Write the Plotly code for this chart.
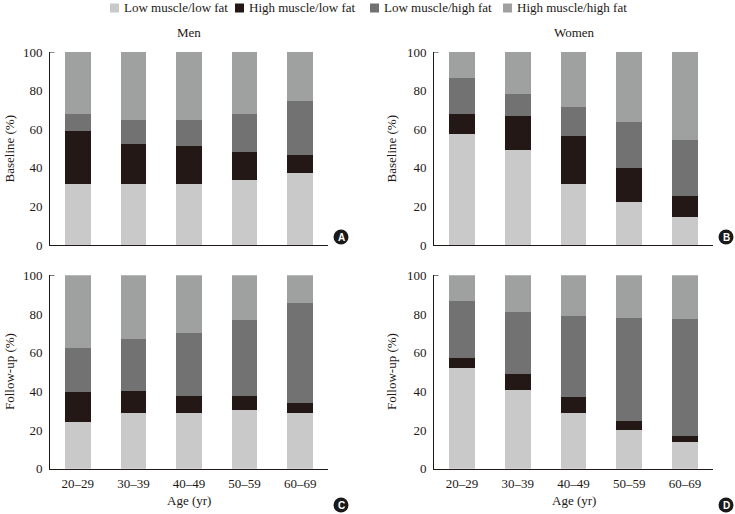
import plotly.graph_objects as go

ages = ["20–29", "30–39", "40–49", "50–59", "60–69"]
series_names = ["Low muscle/low fat", "High muscle/low fat", "Low muscle/high fat", "High muscle/high fat"]
colors = ["#c9c9c9", "#231815", "#727272", "#9fa0a0"]

# Panel A: Men, baseline (% per segment)
men_base_ll = [31.7, 31.7, 31.7, 33.7, 37.2]
men_base_hl = [27.5, 20.7, 19.5, 14.4, 9.3]
men_base_lh = [8.6, 12.3, 13.5, 19.7, 27.9]
men_base_hh = [32.2, 35.3, 35.3, 32.2, 25.6]

# Panel B: Women, baseline
wom_base_ll = [57.6, 49.1, 31.8, 22.3, 14.7]
wom_base_hl = [10.2, 17.5, 24.9, 17.7, 10.6]
wom_base_lh = [18.7, 11.8, 14.9, 23.8, 28.9]
wom_base_hh = [13.5, 21.6, 28.4, 36.2, 45.8]

# Panel C: Men, follow-up
men_fu_ll = [24.1, 28.6, 28.6, 30.3, 28.6]
men_fu_hl = [15.6, 11.6, 9.2, 7.5, 5.2]
men_fu_lh = [22.7, 26.7, 32.5, 39.1, 51.7]
men_fu_hh = [37.6, 33.1, 29.7, 23.1, 14.5]

# Panel D: Women, follow-up
wom_fu_ll = [52.2, 40.7, 29.0, 19.8, 13.8]
wom_fu_hl = [5.0, 8.1, 8.1, 4.7, 3.1]
wom_fu_lh = [29.5, 32.2, 41.9, 53.6, 60.5]
wom_fu_hh = [13.3, 19.0, 21.0, 21.9, 22.6]

panels = [
    ([men_base_ll, men_base_hl, men_base_lh, men_base_hh], "x", "y"),
    ([wom_base_ll, wom_base_hl, wom_base_lh, wom_base_hh], "x2", "y2"),
    ([men_fu_ll, men_fu_hl, men_fu_lh, men_fu_hh], "x3", "y3"),
    ([wom_fu_ll, wom_fu_hl, wom_fu_lh, wom_fu_hh], "x4", "y4"),
]

W, H = 735, 514
FONT = "Liberation Serif"
TXT = "#231815"

fig = go.Figure()
for pi, (vals, xa, ya) in enumerate(panels):
    for si in range(4):
        fig.add_trace(go.Bar(
            x=ages, y=vals[si], name=series_names[si],
            marker=dict(color=colors[si], line=dict(width=0)),
            width=0.46, xaxis=xa, yaxis=ya,
            showlegend=False,
        ))

def px_x(p):
    return p / W

def px_y(p):
    return 1 - p / H

xdom_L = [px_x(50), px_x(328)]
xdom_R = [px_x(434), px_x(713)]
ydom_T = [px_y(245), px_y(52)]
ydom_B = [px_y(468.7), px_y(275.3)]

axis_common = dict(showline=True, linecolor=TXT, linewidth=1, showgrid=False,
                   zeroline=False, ticks="", tickfont=dict(family=FONT, size=13, color=TXT))

def xax(dom, anchor, show_labels):
    d = dict(axis_common)
    d.update(domain=dom, anchor=anchor, range=[-0.5, 4.5], type="category",
             showticklabels=show_labels, ticklabelstandoff=3)
    return d

def yax(dom, anchor):
    d = dict(axis_common)
    d.update(domain=dom, anchor=anchor, range=[0, 100], tickvals=[0, 20, 40, 60, 80, 100],
             ticklabelstandoff=4)
    return d

fig.update_layout(
    width=W, height=H,
    margin=dict(l=0, r=0, t=0, b=0, autoexpand=False),
    paper_bgcolor="white", plot_bgcolor="white",
    barmode="stack",
    showlegend=False,
    hovermode=False,
    font=dict(family=FONT, size=13, color=TXT),
    xaxis=xax(xdom_L, "y", False),
    yaxis=yax(ydom_T, "x"),
    xaxis2=xax(xdom_R, "y2", False),
    yaxis2=yax(ydom_T, "x2"),
    xaxis3=xax(xdom_L, "y3", True),
    yaxis3=yax(ydom_B, "x3"),
    xaxis4=xax(xdom_R, "y4", True),
    yaxis4=yax(ydom_B, "x4"),
)

annotations = []
shapes = []

def ann(text, x, y, **kw):
    d = dict(text=text, x=px_x(x), y=px_y(y), xref="paper", yref="paper",
             xanchor="center", yanchor="middle", showarrow=False,
             font=dict(family=FONT, size=13, color=TXT))
    d.update(kw)
    annotations.append(d)

# manual legend (square + label per series)
legend_sq_left = [110, 235, 370, 503]
LEG_Y = 8
for name, col, sx in zip(series_names, colors, legend_sq_left):
    shapes.append(dict(type="rect", xref="paper", yref="paper",
                       x0=px_x(sx), x1=px_x(sx + 9), y0=px_y(LEG_Y + 4.5), y1=px_y(LEG_Y - 4.5),
                       fillcolor=col, line=dict(width=0)))
    ann(name, sx + 12, LEG_Y, xanchor="left")

# panel titles
for txt, cx in [("Men", 189), ("Women", 574)]:
    ann(txt, cx, 32)
# y titles
for txt, cx, cy in [("Baseline (%)", 9, 148.5), ("Baseline (%)", 391, 148.5),
                    ("Follow-up (%)", 9, 372), ("Follow-up (%)", 391, 372)]:
    ann(txt, cx, cy, textangle=-90)
# x titles
for cx in [189, 574]:
    ann("Age (yr)", cx, 500)
# panel letters
for letter, cx, cy in [("A", 341, 237), ("B", 726, 237), ("C", 341, 505), ("D", 726, 505)]:
    r = 7.5
    shapes.append(dict(type="circle", xref="paper", yref="paper",
                       x0=px_x(cx - r), x1=px_x(cx + r), y0=px_y(cy + r), y1=px_y(cy - r),
                       fillcolor="#1a1a1a", line=dict(width=0)))
    ann("<b>" + letter + "</b>", cx, cy + 0.5,
        font=dict(family="Liberation Sans", size=10, color="white"))
# small top stubs on y axes
for ya, xa in [("y", "x"), ("y2", "x2"), ("y3", "x3"), ("y4", "x4")]:
    shapes.append(dict(type="line", xref=xa + " domain", yref=ya, x0=0, x1=0.016, y0=100, y1=100,
                       line=dict(color=TXT, width=1)))

fig.update_layout(annotations=annotations, shapes=shapes)
fig.write_html("out.html",
               config={"displayModeBar": False, "staticPlot": True},
               post_script="document.body.style.margin='0';document.body.style.padding='0';"
                           "document.body.style.overflow='hidden';")
